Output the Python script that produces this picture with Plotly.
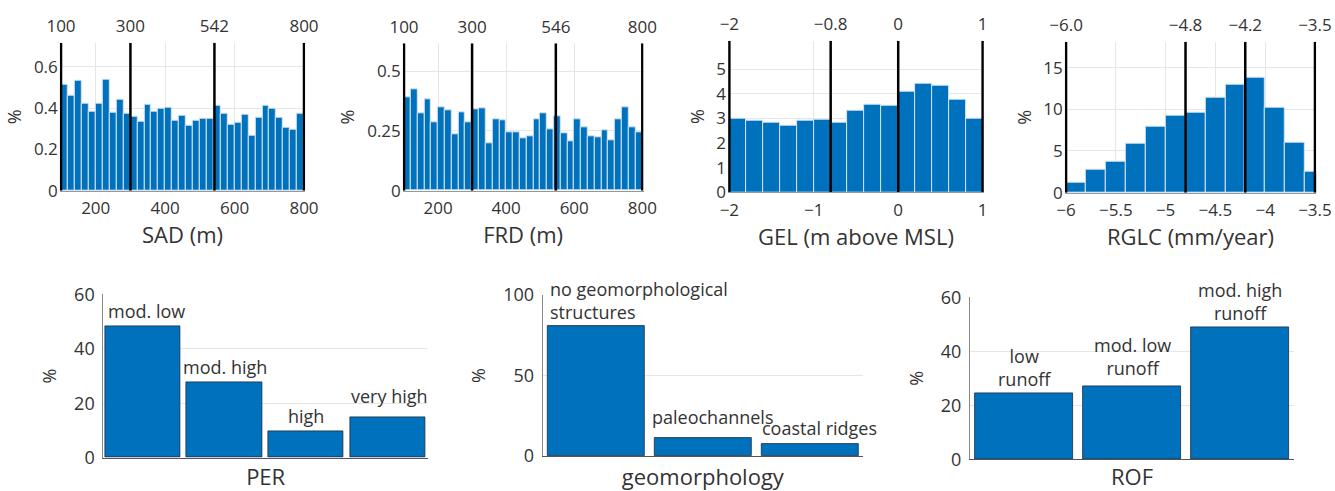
import plotly.graph_objects as go

# ---------------- data ----------------
sad_bin_start = 100
sad_bin_width = 20
sad_pct = [0.511, 0.46, 0.532, 0.419, 0.381, 0.423, 0.535, 0.379, 0.442, 0.371,
           0.358, 0.335, 0.416, 0.384, 0.395, 0.40, 0.339, 0.365, 0.316, 0.339,
           0.35, 0.35, 0.41, 0.374, 0.318, 0.329, 0.366, 0.266, 0.353, 0.41,
           0.395, 0.355, 0.303, 0.294, 0.374]
sad_edges = [100, 300, 542, 800]
sad_edge_labels = ["100", "300", "542", "800"]

frd_bin_start = 100
frd_bin_width = 20
frd_pct = [0.39, 0.423, 0.322, 0.384, 0.286, 0.348, 0.338, 0.235, 0.326, 0.287,
           0.34, 0.345, 0.20, 0.298, 0.295, 0.246, 0.244, 0.221, 0.228, 0.298,
           0.322, 0.256, 0.312, 0.238, 0.205, 0.30, 0.265, 0.226, 0.223, 0.253,
           0.21, 0.30, 0.348, 0.267, 0.244]
frd_edges = [100, 300, 546, 800]
frd_edge_labels = ["100", "300", "546", "800"]

gel_bin_start = -2.0
gel_bin_width = 0.2
gel_pct = [3.0, 2.89, 2.84, 2.70, 2.92, 2.95, 2.81, 3.31, 3.57, 3.53,
           4.09, 4.42, 4.34, 3.77, 3.0]
gel_edges = [-2, -0.8, 0, 1]
gel_edge_labels = ["\u22122", "\u22120.8", "0", "1"]

rglc_bin_start = -6.0
rglc_bin_width = 0.2
rglc_pct = [1.16, 2.72, 3.76, 5.92, 7.88, 9.28, 9.64, 11.4, 12.96, 13.76,
            10.2, 5.96, 2.52]
rglc_edges = [-6.0, -4.8, -4.2, -3.5]
rglc_edge_labels = ["\u22126.0", "\u22124.8", "\u22124.2", "\u22123.5"]

per_categories = ["mod. low", "mod. high", "high", "very high"]
per_pct = [48.1, 27.6, 9.8, 14.9]

geo_categories = ["no geomorphological<br>structures", "paleochannels", "coastal ridges"]
geo_pct = [81.0, 11.0, 7.2]

rof_categories = ["low<br>runoff", "mod. low<br>runoff", "mod. high<br>runoff"]
rof_pct = [24.4, 27.2, 48.8]

# ---------------- style / layout ----------------
W, H = 1335, 491
FONT = "Open Sans"
TXT = "#333333"
BAR = "#0072BD"
GRID = "#e6e6e6"


def dx(a, b):
    return [a / W, b / W]


def dy(top, bottom):
    return [1 - bottom / H, 1 - top / H]


fig = go.Figure()
layout = {}
annotations = []

top_panels = [
    dict(title="SAD (m)", start=sad_bin_start, width=sad_bin_width, vals=sad_pct,
         edges=sad_edges, labels=sad_edge_labels, xr=[100, 800], yr=[0, 0.716],
         xt=[200, 400, 600, 800], yt=[0, 0.2, 0.4, 0.6], px=(61, 304), py=(42.7, 190.7)),
    dict(title="FRD (m)", start=frd_bin_start, width=frd_bin_width, vals=frd_pct,
         edges=frd_edges, labels=frd_edge_labels, xr=[100, 800], yr=[0, 0.616],
         xt=[200, 400, 600, 800], yt=[0, 0.25, 0.5], px=(404, 642.3), py=(43.3, 190.7)),
    dict(title="GEL (m above MSL)", start=gel_bin_start, width=gel_bin_width, vals=gel_pct,
         edges=gel_edges, labels=gel_edge_labels, xr=[-2, 1], yr=[0, 6.15],
         xt=[-2, -1, 0, 1], yt=[0, 1, 2, 3, 4, 5], px=(729.3, 982.7), py=(40.7, 192.3)),
    dict(title="RGLC (mm/year)", start=rglc_bin_start, width=rglc_bin_width, vals=rglc_pct,
         edges=rglc_edges, labels=rglc_edge_labels, xr=[-6, -3.5], yr=[0, 18.1],
         xt=[-6, -5.5, -5, -4.5, -4, -3.5], yt=[0, 5, 10, 15], px=(1066, 1315), py=(41.7, 192.7)),
]

for i, p in enumerate(top_panels, start=1):
    sfx = "" if i == 1 else str(i)
    tsfx = str(i + 4)
    span = p["xr"][1] - p["xr"][0]
    pad = 0.005 * span
    xr = [p["xr"][0] - pad, p["xr"][1] + pad]
    pxa = (p["px"][0] - 1.2, p["px"][1] + 1.2)
    centers = [p["start"] + p["width"] * (k + 0.5) for k in range(len(p["vals"]))]
    fig.add_trace(go.Bar(
        x=centers, y=p["vals"], width=p["width"],
        marker=dict(color=BAR, line=dict(color="#d6e4f2", width=1)),
        xaxis="x" + sfx, yaxis="y" + sfx, showlegend=False, hoverinfo="skip"))
    lx, ly = [], []
    for e in p["edges"]:
        lx += [e, e, None]
        ly += [p["yr"][0], p["yr"][1], None]
    fig.add_trace(go.Scatter(
        x=lx, y=ly, mode="lines", line=dict(color="black", width=2.5),
        xaxis="x" + tsfx, yaxis="y" + sfx, showlegend=False, hoverinfo="skip"))
    layout["xaxis" + sfx] = dict(
        domain=dx(*pxa), range=xr, anchor="y" + sfx, tickvals=p["xt"],
        showgrid=True, gridcolor=GRID, showline=True, linecolor="#999999",
        zeroline=False, ticks="", tickfont=dict(size=17, color=TXT), automargin=False,
        ticklabelstandoff=2,
        title=dict(text=p["title"], font=dict(size=22, color=TXT), standoff=0))
    layout["yaxis" + sfx] = dict(
        domain=dy(*p["py"]), range=p["yr"], anchor="x" + sfx, tickvals=p["yt"],
        showgrid=True, gridcolor=GRID, showline=False, zeroline=False, ticks="",
        tickfont=dict(size=17, color=TXT), automargin=False, ticklabelstandoff=1,
        title=dict(text="%", font=dict(size=18, color=TXT), standoff=7))
    layout["xaxis" + tsfx] = dict(
        overlaying="x" + sfx, side="top", anchor="y" + sfx, range=xr,
        tickvals=p["edges"], ticktext=p["labels"], showgrid=False, showline=False,
        zeroline=False, ticks="", tickfont=dict(size=17, color=TXT), automargin=False,
        ticklabelstandoff=6)

bottom_panels = [
    dict(title="PER", cats=per_categories, vals=per_pct, yr=[0, 60], yt=[0, 20, 40, 60],
         xr=[-0.48, 3.49], bw=0.92, px=(103.3, 428), py=(294.3, 457.7), align="center",
         yshift=[2, 2, 1, 7], xshift=[4, 1, 0, 2]),
    dict(title="geomorphology", cats=geo_categories, vals=geo_pct, yr=[0, 100], yt=[0, 50, 100],
         xr=[-0.5, 2.49], bw=0.906, px=(542.7, 863), py=(295, 456), align="left",
         yshift=[0, 7, 2], xshift=[0, -5, -2]),
    dict(title="ROF", cats=rof_categories, vals=rof_pct, yr=[0, 60], yt=[0, 20, 40, 60],
         xr=[-0.5, 2.5], bw=0.9, px=(970, 1294), py=(297.3, 459.3), align="center",
         yshift=[0, 4, 1], xshift=[0, 0, 0]),
]

for j, p in enumerate(bottom_panels, start=9):
    sfx = str(j)
    idx = list(range(len(p["vals"])))
    fig.add_trace(go.Bar(
        x=idx, y=p["vals"], width=p["bw"],
        marker=dict(color=BAR, line=dict(color="#1a2a40", width=0.8)),
        xaxis="x" + sfx, yaxis="y" + sfx, showlegend=False, hoverinfo="skip"))
    layout["xaxis" + sfx] = dict(
        domain=dx(*p["px"]), range=p["xr"], anchor="y" + sfx, showticklabels=False,
        showgrid=False, showline=True, linecolor="#555555", zeroline=False, ticks="",
        automargin=False,
        title=dict(text=p["title"], font=dict(size=22, color=TXT), standoff=14))
    layout["yaxis" + sfx] = dict(
        domain=dy(*p["py"]), range=p["yr"], anchor="x" + sfx, tickvals=p["yt"],
        showgrid=True, gridcolor=GRID, showline=True, linecolor="#888888",
        zeroline=False, ticks="", tickfont=dict(size=18, color=TXT), automargin=False,
        ticklabelstandoff=4,
        title=dict(text="%", font=dict(size=18, color=TXT), standoff=12))
    for k, (c, v) in enumerate(zip(p["cats"], p["vals"])):
        if p["align"] == "left":
            ax, xa = k - p["bw"] / 2, "left"
        else:
            ax, xa = k, "center"
        annotations.append(dict(
            x=ax, y=v, xref="x" + sfx, yref="y" + sfx, text=c, showarrow=False,
            xanchor=xa, yanchor="bottom", align=xa,
            yshift=p["yshift"][k], xshift=p["xshift"][k],
            font=dict(size=18, color=TXT, family=FONT)))

layout["annotations"] = annotations
fig.update_layout(**layout)
fig.update_layout(
    width=W, height=H, margin=dict(l=0, r=0, t=0, b=0, autoexpand=False),
    paper_bgcolor="white", plot_bgcolor="white",
    font=dict(family=FONT, color=TXT), bargap=0, showlegend=False)

fig.write_html("out.html")
